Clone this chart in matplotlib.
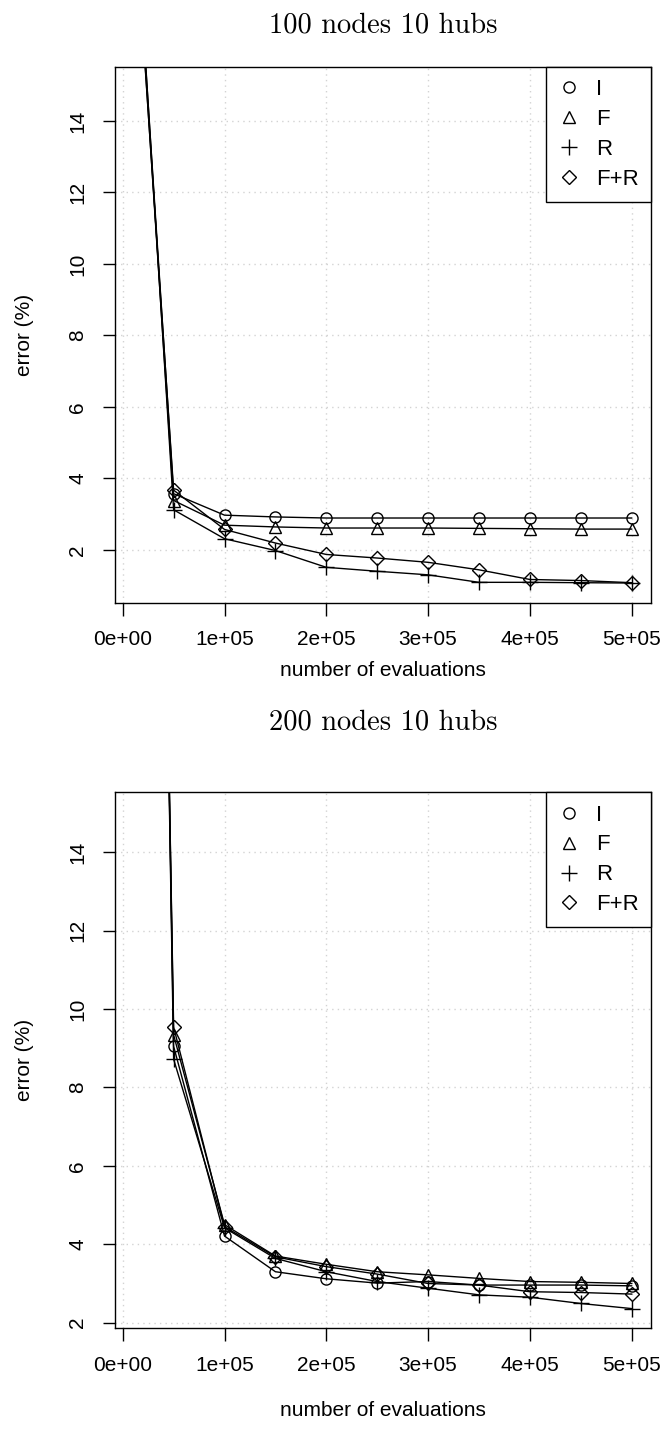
import numpy as np
import matplotlib
matplotlib.use("Agg")
from matplotlib import pyplot as plt

plt.rcParams['font.family'] = ['Liberation Sans', 'DejaVu Sans']

# evaluations at which the error was recorded
evaluations = [10000, 50000, 100000, 150000, 200000, 250000,
               300000, 350000, 400000, 450000, 500000]
series_names = ["I", "F", "R", "F+R"]

# 100 nodes, 10 hubs
err_100_I = [21.0, 3.57, 2.97, 2.92, 2.89, 2.89, 2.89, 2.89, 2.89, 2.89, 2.89]
err_100_F = [20.8, 3.38, 2.69, 2.64, 2.61, 2.61, 2.61, 2.60, 2.59, 2.58, 2.58]
err_100_R = [21.3, 3.12, 2.31, 1.98, 1.51, 1.40, 1.30, 1.09, 1.09, 1.08, 1.07]
err_100_FR = [20.6, 3.67, 2.57, 2.19, 1.87, 1.77, 1.65, 1.44, 1.17, 1.14, 1.08]

# 200 nodes, 10 hubs
err_200_I = [70.0, 9.05, 4.21, 3.30, 3.12, 3.01, 3.05, 2.96, 2.96, 2.96, 2.94]
err_200_F = [69.0, 9.34, 4.50, 3.70, 3.49, 3.30, 3.22, 3.13, 3.05, 3.03, 3.00]
err_200_R = [71.0, 8.72, 4.42, 3.64, 3.30, 3.05, 2.88, 2.71, 2.65, 2.49, 2.36]
err_200_FR = [68.0, 9.54, 4.45, 3.68, 3.43, 3.24, 3.00, 2.96, 2.79, 2.77, 2.73]

x_ticks = [0, 100000, 200000, 300000, 400000, 500000]
x_tick_labels = ["0e+00", "1e+05", "2e+05", "3e+05", "4e+05", "5e+05"]
y_ticks = [2, 4, 6, 8, 10, 12, 14]

markers = {"I": dict(marker='o', ms=8),
           "F": dict(marker='^', ms=8.5),
           "R": dict(marker='+', ms=11),
           "F+R": dict(marker='D', ms=7)}

FS = 15
W, H = 666, 1439


def draw_panel(ax, errs, ylim):
    for name, err in zip(series_names, errs):
        ax.plot(evaluations, err, color='black', lw=1.0, mfc='none',
                mec='black', mew=1.0, label=name, **markers[name])
    ax.set_xlim(-7600, 519000)
    ax.set_ylim(*ylim)
    ax.set_xticks(x_ticks)
    ax.set_xticklabels(x_tick_labels)
    ax.set_yticks(y_ticks)
    ax.grid(True, color='#d3d3d3', linestyle=(0, (1, 3)), lw=1.0)
    ax.set_axisbelow(True)
    for s in ax.spines.values():
        s.set_color('black')
        s.set_linewidth(1.0)
    ax.tick_params(axis='both', direction='out', length=9, width=1.0,
                   labelsize=FS, colors='black')
    ax.tick_params(axis='x', pad=11)
    ax.tick_params(axis='y', pad=11, labelrotation=90)
    for lab in ax.get_yticklabels():
        lab.set_va('center')
    # legend: symbols only, boxed in the top right corner
    leg = ax.legend(loc='upper right', borderaxespad=0, fancybox=False,
                    edgecolor='black', framealpha=1, fontsize=16,
                    handlelength=1.0, handletextpad=0.7, labelspacing=0.4,
                    borderpad=0.55)
    leg.get_frame().set_linewidth(1.0)
    for line in leg.get_lines():
        line.set_linestyle('none')
    ax.set_ylabel("error (%)", fontsize=FS)
    ax.set_xlabel("number of evaluations", fontsize=FS)


fig = plt.figure(figsize=(W / 100, H / 100), dpi=100)
left, right = 115 / W, 651 / W
ax1 = fig.add_axes([left, 1 - 602.7 / H, right - left, (602.7 - 66.7) / H])
ax2 = fig.add_axes([left, 1 - 1328.3 / H, right - left, (1328.3 - 792.3) / H])

draw_panel(ax1, [err_100_I, err_100_F, err_100_R, err_100_FR], (0.52, 15.52))
draw_panel(ax2, [err_200_I, err_200_F, err_200_R, err_200_FR], (1.857, 15.53))

cx = (left + right) / 2
fig.text(cx, 1 - 25 / H, "100 nodes 10 hubs", family='cmr10', fontsize=20.5,
         ha='center', va='center')
fig.text(cx, 1 - 722 / H, "200 nodes 10 hubs", family='cmr10', fontsize=20.5,
         ha='center', va='center')

for ax, ylab_y, xlab_y in [(ax1, 1 - 334.7 / H, 1 - 670 / H),
                           (ax2, 1 - 1060.3 / H, 1 - 1410 / H)]:
    ax.yaxis.set_label_coords(25 / W, ylab_y, transform=fig.transFigure)
    ax.xaxis.set_label_coords(cx, xlab_y, transform=fig.transFigure)
    ax.yaxis.label.set_va('center')
    ax.xaxis.label.set_va('center')

fig.savefig("out.png", dpi=100)
